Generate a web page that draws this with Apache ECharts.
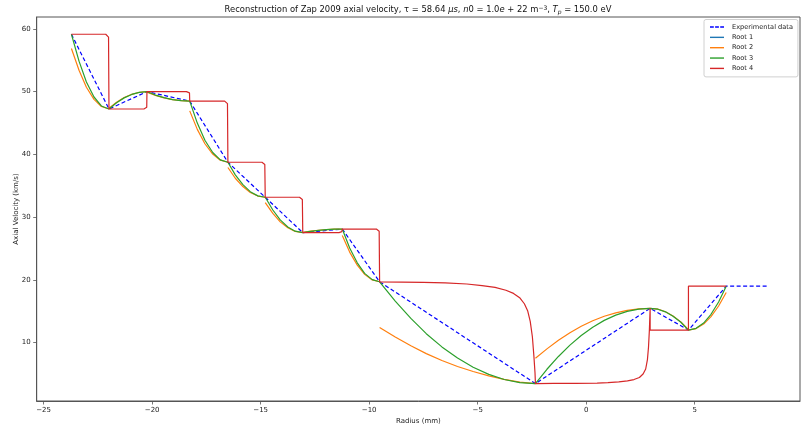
<!DOCTYPE html>
<html>
<head>
<meta charset="utf-8">
<script src="https://cdn.jsdelivr.net/npm/echarts@6/dist/echarts.min.js"></script>
<style>
  html, body { margin: 0; padding: 0; background: #fff; }
  #chart { width: 802px; height: 430px; }
</style>
</head>
<body>
<div id="chart"></div>
<script>
// Measured axial velocity profile (radius in mm, velocity in km/s)
const radius   = [-23.72, -21.99, -20.24, -18.27, -16.51, -14.79, -13.06, -11.24, -9.52, -2.34, 2.945, 4.71, 6.45, 8.32];
const velocity = [59.15, 47.24, 50.0, 48.5, 38.75, 33.17, 27.53, 28.1, 19.7, 3.48, 15.47, 12.0, 19.0, 19.0];

// Root 1 has no real branch over this range
const root1 = [];

// Root 2, one piece per interval between measurements
const root2 = [
  [[-23.72, 56.89], [-23.37, 53.42], [-23.03, 50.71], [-22.68, 48.78], [-22.34, 47.63], [-21.99, 47.24]],
  [[-21.99, 47.38], [-21.64, 48.32], [-21.29, 49.06], [-20.94, 49.58], [-20.59, 49.90], [-20.24, 50.0]],
  [[-20.24, 49.93], [-19.85, 49.41], [-19.45, 49.01], [-19.06, 48.73], [-18.66, 48.56], [-18.27, 48.5]],
  [[-18.27, 46.94], [-17.92, 43.99], [-17.57, 41.70], [-17.21, 40.06], [-16.86, 39.08], [-16.51, 38.75]],
  [[-16.51, 37.91], [-16.17, 36.20], [-15.82, 34.88], [-15.48, 33.93], [-15.13, 33.36], [-14.79, 33.17]],
  [[-14.79, 32.32], [-14.44, 30.60], [-14.10, 29.25], [-13.75, 28.30], [-13.41, 27.72], [-13.06, 27.53]],
  [[-13.06, 27.59], [-12.70, 27.77], [-12.33, 27.91], [-11.97, 28.01], [-11.60, 28.08], [-11.24, 28.1]],
  [[-11.24, 27.09], [-10.90, 24.43], [-10.55, 22.36], [-10.21, 20.88], [-9.86, 20.00], [-9.52, 19.7]],
  [[-9.52, 12.4], [-8.80, 10.9], [-8.08, 9.5], [-7.37, 8.25], [-6.65, 7.15], [-5.93, 6.2], [-5.21, 5.4],
   [-4.49, 4.7], [-3.78, 4.15], [-3.06, 3.7], [-2.34, 3.48]],
  [[-2.34, 7.5], [-1.81, 9.01], [-1.28, 10.37], [-0.75, 11.57], [-0.23, 12.6], [0.30, 13.48], [0.83, 14.2],
   [1.36, 14.75], [1.89, 15.15], [2.42, 15.39], [2.945, 15.47]],
  [[2.945, 15.47], [3.30, 15.34], [3.65, 14.93], [4.00, 14.26], [4.36, 13.31], [4.71, 12.05]],
  [[4.71, 12.0], [5.06, 12.24], [5.41, 12.96], [5.75, 14.16], [6.10, 15.84], [6.45, 18.0]]
];

// Root 3, one piece per interval between measurements
const root3 = [
  [[-23.72, 59.15], [-23.37, 54.86], [-23.03, 51.53], [-22.68, 49.15], [-22.34, 47.72], [-21.99, 47.24]],
  [[-21.99, 47.24], [-21.64, 48.23], [-21.29, 49.01], [-20.94, 49.56], [-20.59, 49.89], [-20.24, 50.0]],
  [[-20.24, 50.0], [-19.85, 49.46], [-19.45, 49.04], [-19.06, 48.74], [-18.66, 48.56], [-18.27, 48.5]],
  [[-18.27, 48.5], [-17.92, 44.99], [-17.57, 42.26], [-17.21, 40.31], [-16.86, 39.14], [-16.51, 38.75]],
  [[-16.51, 38.75], [-16.17, 36.74], [-15.82, 35.18], [-15.48, 34.06], [-15.13, 33.39], [-14.79, 33.17]],
  [[-14.79, 33.17], [-14.44, 31.14], [-14.10, 29.56], [-13.75, 28.43], [-13.41, 27.76], [-13.06, 27.53]],
  [[-13.06, 27.53], [-12.70, 27.74], [-12.33, 27.89], [-11.97, 28.01], [-11.60, 28.08], [-11.24, 28.1]],
  [[-11.24, 28.1], [-10.90, 25.08], [-10.55, 22.72], [-10.21, 21.04], [-9.86, 20.04], [-9.52, 19.7]],
  [[-9.52, 19.7], [-8.80, 16.62], [-8.08, 13.86], [-7.37, 11.43], [-6.65, 9.32], [-5.93, 7.54], [-5.21, 6.08],
   [-4.49, 4.94], [-3.78, 4.13], [-3.06, 3.64], [-2.34, 3.48]],
  [[-2.34, 3.48], [-1.81, 5.76], [-1.28, 7.8], [-0.75, 9.6], [-0.23, 11.15], [0.30, 12.47], [0.83, 13.55],
   [1.36, 14.39], [1.89, 14.99], [2.42, 15.35], [2.945, 15.47]],
  [[2.945, 15.47], [3.30, 15.33], [3.65, 14.91], [4.00, 14.22], [4.36, 13.25], [4.71, 12.0]],
  [[4.71, 12.0], [5.06, 12.28], [5.41, 13.12], [5.75, 14.52], [6.10, 16.48], [6.45, 19.0]]
];

// Root 4, a single continuous branch
const root4 = [
  [-23.72, 59.15], [-22.14, 59.15], [-22.05, 59.05], [-22.01, 58.7], [-21.99, 47.24],
  [-20.38, 47.24], [-20.29, 47.3], [-20.25, 47.5], [-20.24, 50.0],
  [-18.42, 50.0], [-18.33, 49.93], [-18.28, 49.8], [-18.27, 48.5],
  [-16.66, 48.5], [-16.57, 48.4], [-16.53, 48.1], [-16.51, 38.75],
  [-14.94, 38.75], [-14.85, 38.65], [-14.81, 38.4], [-14.79, 33.17],
  [-13.21, 33.17], [-13.12, 33.07], [-13.08, 32.8], [-13.06, 27.53],
  [-11.39, 27.53], [-11.30, 27.58], [-11.26, 27.7], [-11.24, 28.1],
  [-9.67, 28.1], [-9.58, 28.0], [-9.54, 27.75], [-9.52, 19.7],
  [-8.5, 19.66], [-7.5, 19.6], [-6.5, 19.52], [-5.5, 19.35], [-4.8, 19.1], [-4.2, 18.8], [-3.7, 18.35],
  [-3.35, 17.85], [-3.05, 17.1], [-2.85, 16.2], [-2.7, 15.1], [-2.58, 13.4], [-2.48, 10.9], [-2.41, 7.8],
  [-2.36, 5.2], [-2.34, 3.48],
  [-1.5, 3.5], [-0.5, 3.52], [0.5, 3.56], [1.0, 3.62], [1.5, 3.75], [1.9, 3.92], [2.2, 4.12], [2.45, 4.45],
  [2.62, 5.0], [2.74, 5.8], [2.82, 7.3], [2.87, 9.3], [2.91, 12.0], [2.93, 14.0], [2.945, 15.47],
  [2.945, 12.0], [4.71, 12.0], [4.71, 19.0], [6.45, 19.0]
];

const xTicks = [-25, -20, -15, -10, -5, 0, 5];
const yTicks = [10, 20, 30, 40, 50, 60];

// Join pieces with gaps so the line breaks between intervals
function withGaps(pieces) {
  const out = [];
  pieces.forEach((p, i) => {
    if (i > 0) out.push(['-', '-']);
    p.forEach(pt => out.push(pt));
  });
  return out;
}

const FONT = 'DejaVu Sans';
const minus = v => String(v).replace('-', '\u2212');

// Legend glyphs: a short solid stroke and a three-dash stroke
const SOLID_ICON  = 'path://M0,0h14v1.4h-14z';
const DASHED_ICON = 'path://M0,0h3.8v1.4h-3.8zM5.1,0h3.8v1.4h-3.8zM10.2,0h3.8v1.4h-3.8z';

const chart = echarts.init(document.getElementById('chart'), null, { renderer: 'canvas' });

const lineSeries = (name, data, color, width, type) => ({
  name, type: 'line', data, showSymbol: false, symbol: 'none',
  connectNulls: false, animation: false,
  lineStyle: { color, width, type },
  itemStyle: { color },
  emphasis: { disabled: true }
});

const titleStyle = (extra) => Object.assign({
  fontFamily: FONT, fontSize: 8.4, fontWeight: 'normal', color: '#111', lineHeight: 10
}, extra || {});

chart.setOption({
  animation: false,
  backgroundColor: '#fff',
  title: {
    left: 418, top: 5, textAlign: 'center', padding: 0,
    text: '{n|Reconstruction of Zap 2009 axial velocity, \u03c4 = 58.64 }{i|\u03bcs}{n|, }{i|n}{n|0 = 1.0}{i|e}{n| + 22 m}{sup|\u22123}{n|, }{i|T}{sub|p}{n| = 150.0 eV}',
    textStyle: {
      fontWeight: 'normal',
      rich: {
        n:   titleStyle(),
        i:   titleStyle({ fontStyle: 'italic' }),
        sup: titleStyle({ fontSize: 6, verticalAlign: 'top' }),
        sub: titleStyle({ fontSize: 6, fontStyle: 'italic', verticalAlign: 'bottom' })
      }
    }
  },
  legend: {
    orient: 'vertical',
    left: 704, top: 19.5,
    padding: [4, 5, 5, 6],
    itemWidth: 14, itemHeight: 7, itemGap: 3.35,
    backgroundColor: '#fff',
    borderColor: '#d0d0d0', borderWidth: 1, borderRadius: 2,
    itemStyle: { borderWidth: 0 },
    textStyle: { fontFamily: FONT, fontSize: 6.6, color: '#222', padding: [0, 0, 0, 3] },
    data: [
      { name: 'Experimental data', icon: DASHED_ICON },
      { name: 'Root 1', icon: SOLID_ICON },
      { name: 'Root 2', icon: SOLID_ICON },
      { name: 'Root 3', icon: SOLID_ICON },
      { name: 'Root 4', icon: SOLID_ICON }
    ]
  },
  grid: {
    left: 36.7, right: 2, top: 17, bottom: 29,
    outerBoundsMode: 'none', containLabel: false,
    show: true, borderColor: '#555', borderWidth: 1, backgroundColor: 'transparent'
  },
  xAxis: {
    type: 'value', min: -25.32, max: 9.85,
    name: 'Radius (mm)', nameLocation: 'middle', nameGap: 17, nameMoveOverlap: false,
    nameTextStyle: { fontFamily: FONT, fontSize: 7, color: '#222' },
    axisLine: { show: true, onZero: false, lineStyle: { color: '#555', width: 1 } },
    axisTick: { show: true, length: 3.5, lineStyle: { color: '#555', width: 0.8 }, customValues: xTicks },
    axisLabel: { fontFamily: FONT, fontSize: 7, color: '#222', margin: 6, customValues: xTicks, formatter: minus },
    splitLine: { show: false }
  },
  yAxis: {
    type: 'value', min: 0.7, max: 61.9,
    name: 'Axial Velocity (km/s)', nameLocation: 'middle', nameGap: 17, nameRotate: 90, nameMoveOverlap: false,
    nameTextStyle: { fontFamily: FONT, fontSize: 7, color: '#222' },
    axisLine: { show: true, onZero: false, lineStyle: { color: '#555', width: 1 } },
    axisTick: { show: true, length: 3.5, lineStyle: { color: '#555', width: 0.8 }, customValues: yTicks },
    axisLabel: { fontFamily: FONT, fontSize: 7, color: '#222', margin: 6, customValues: yTicks },
    splitLine: { show: false }
  },
  series: [
    lineSeries('Experimental data', radius.map((r, i) => [r, velocity[i]]), '#0000ff', 1.2, [4, 2.5]),
    lineSeries('Root 1', root1, '#1f77b4', 1.2, 'solid'),
    lineSeries('Root 2', withGaps(root2), '#ff7f0e', 1.2, 'solid'),
    lineSeries('Root 3', withGaps(root3), '#2ca02c', 1.2, 'solid'),
    lineSeries('Root 4', root4, '#d62728', 1.2, 'solid')
  ]
});
</script>
</body>
</html>
